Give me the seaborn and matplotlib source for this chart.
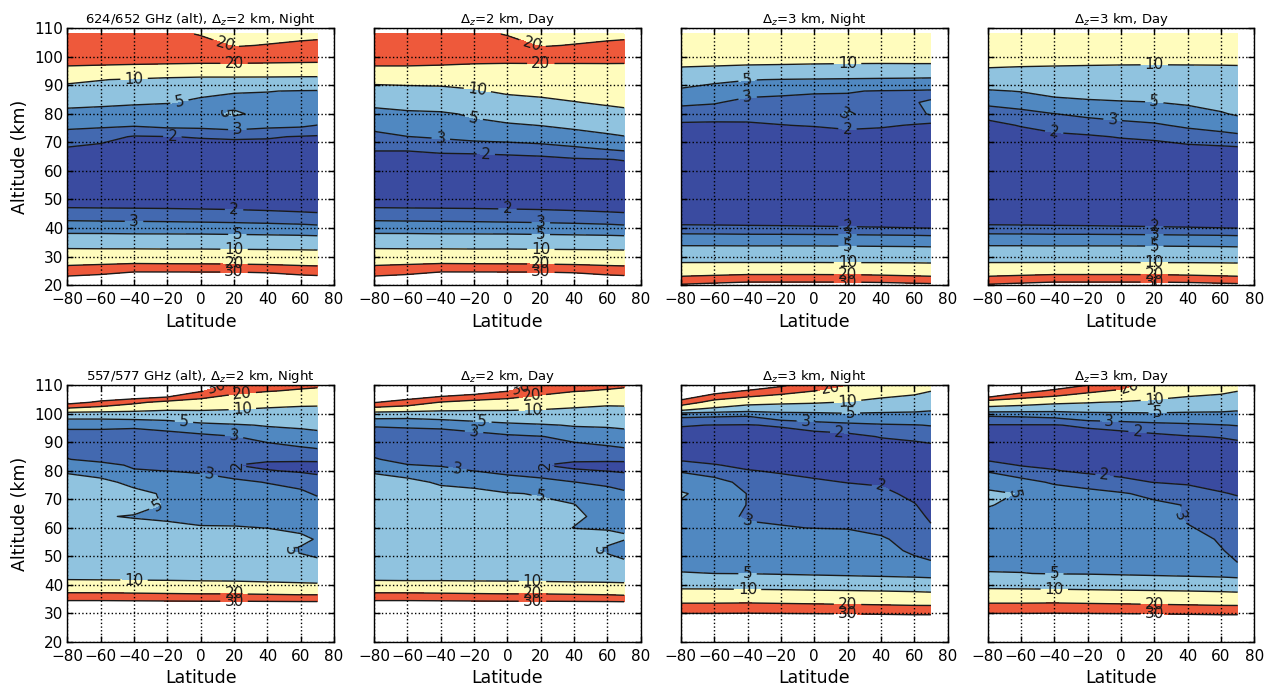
import numpy as np
import matplotlib
matplotlib.use("Agg")
import matplotlib.pyplot as plt
import seaborn as sns

# grille : latitudes (deg) et altitudes (km) des valeurs
lat = [-80, -60, -40, -20, 0, 20, 40, 60, 70]
alt_hi = list(range(20, 109, 4))
alt_lo = list(range(20, 81, 4)) + [82] + list(range(84, 113, 4))

# 624/652 GHz, dz=2 km, nuit
z_hi_2km_night = [
    [40, 42, 45, 45, 45, 45, 44, 42, 42],
    [27.3, 29, 32, 32, 32, 32, 31, 28.5, 27.6],
    [17.1, 17.8, 18.5, 18.2, 18, 17.7, 17.2, 16.6, 16.3],
    [10.9, 10.8, 10.8, 10.7, 10.7, 10.6, 10.5, 10.4, 10.3],
    [6.3, 6.3, 6.2, 6.2, 6.2, 6.1, 6.0, 5.9, 5.8],
    [3.82, 3.78, 3.74, 3.7, 3.64, 3.58, 3.5, 3.4, 3.3],
    [2.54, 2.5, 2.47, 2.44, 2.4, 2.35, 2.28, 2.2, 2.16],
    [1.85, 1.84, 1.83, 1.82, 1.8, 1.78, 1.75, 1.72, 1.7],
    [1.6, 1.6, 1.6, 1.6, 1.6, 1.6, 1.6, 1.6, 1.6],
    [1.5, 1.5, 1.5, 1.5, 1.5, 1.5, 1.5, 1.5, 1.5],
    [1.5, 1.5, 1.5, 1.5, 1.5, 1.5, 1.5, 1.5, 1.5],
    [1.6, 1.6, 1.55, 1.55, 1.55, 1.55, 1.55, 1.55, 1.55],
    [1.95, 1.8, 1.7, 1.7, 1.7, 1.7, 1.7, 1.7, 1.7],
    [2.53, 2.3, 1.93, 1.98, 2.05, 2.1, 2.07, 1.95, 1.9],
    [3.27, 3.2, 3.1, 3.3, 3.35, 3.6, 3.3, 3.2, 2.98],
    [4.29, 4.15, 4.04, 4.0, 4.3, 5.3, 4.4, 3.9, 3.8],
    [5.72, 5.5, 5.26, 5.1, 4.7, 4.4, 4.5, 4.4, 4.3],
    [7.87, 7.6, 7.3, 7.0, 5.4, 5.15, 5.05, 4.9, 4.85],
    [11.25, 10.2, 9.4, 8.5, 8.0, 8.0, 7.9, 7.8, 7.8],
    [19, 18.5, 18, 17.5, 17, 17, 17, 16.5, 16.3],
    [24, 24, 24, 24, 24, 24, 23.5, 23.5, 23.5],
    [25, 25, 25, 24.5, 23, 19.5, 20.3, 21.3, 21.5],
    [24, 24, 24, 22, 19.5, 17, 17.5, 18, 18.5],
]

# 624/652 GHz, dz=2 km, jour
z_hi_2km_day = [
    [40, 42, 45, 45, 45, 45, 44, 42, 42],
    [27.3, 29, 32, 32, 32, 32, 31, 28.5, 27.6],
    [17.1, 17.8, 18.5, 18.2, 18, 17.7, 17.2, 16.6, 16.3],
    [10.9, 10.8, 10.8, 10.7, 10.7, 10.6, 10.5, 10.4, 10.3],
    [6.3, 6.3, 6.2, 6.2, 6.2, 6.1, 6.0, 5.9, 5.8],
    [3.82, 3.78, 3.74, 3.7, 3.64, 3.58, 3.5, 3.4, 3.3],
    [2.54, 2.5, 2.47, 2.44, 2.4, 2.35, 2.28, 2.2, 2.16],
    [1.85, 1.84, 1.83, 1.82, 1.8, 1.78, 1.75, 1.72, 1.7],
    [1.6, 1.6, 1.6, 1.6, 1.6, 1.6, 1.6, 1.6, 1.6],
    [1.5, 1.5, 1.5, 1.5, 1.5, 1.5, 1.5, 1.5, 1.5],
    [1.5, 1.5, 1.5, 1.5, 1.5, 1.5, 1.5, 1.6, 1.6],
    [1.7, 1.7, 1.7, 1.65, 1.7, 1.75, 1.9, 1.97, 2.05],
    [2.1, 2.1, 2.25, 2.35, 2.45, 2.6, 2.85, 3.15, 3.3],
    [2.65, 2.98, 3.15, 3.4, 3.5, 3.65, 3.95, 4.6, 4.9],
    [3.4, 3.75, 3.8, 4.5, 4.7, 5.05, 5.6, 6.1, 6.5],
    [4.3, 4.6, 4.7, 5.3, 6.2, 6.6, 7.3, 8.2, 8.6],
    [5.6, 6.0, 6.3, 7.0, 8.2, 8.8, 9.8, 10.7, 11.2],
    [8.0, 8.3, 8.5, 9.5, 10.8, 11.4, 12.0, 12.7, 13],
    [11.5, 11.8, 12, 12.5, 13.5, 13.8, 14.2, 14.6, 14.8],
    [19, 19, 18.5, 17.5, 17, 17.2, 17.5, 17.6, 17.5],
    [24, 24, 24, 24, 24, 24, 23.5, 23.5, 23.5],
    [25, 25, 25, 24.5, 23, 19.5, 20.3, 21.3, 21.5],
    [24, 24, 24, 22, 19.5, 17, 17.5, 18, 18.5],
]

# 624/652 GHz, dz=3 km, nuit
z_hi_3km_night = [
    [31, 32.5, 34, 34, 34, 34, 33.5, 32.5, 32],
    [16.7, 17.8, 18.8, 18.8, 18.8, 18.6, 18, 17, 16.5],
    [9.8, 9.8, 9.8, 9.8, 9.8, 9.7, 9.7, 9.6, 9.5],
    [6.0, 6.0, 6.0, 6.0, 6.0, 5.95, 5.9, 5.85, 5.8],
    [3.77, 3.75, 3.7, 3.7, 3.68, 3.65, 3.6, 3.55, 3.5],
    [2.2, 2.18, 2.15, 2.13, 2.1, 2.07, 2.04, 2.01, 1.98],
    [1.5, 1.5, 1.5, 1.5, 1.5, 1.5, 1.5, 1.5, 1.5],
    [1.45, 1.45, 1.45, 1.45, 1.45, 1.45, 1.45, 1.45, 1.45],
    [1.4, 1.4, 1.4, 1.4, 1.4, 1.4, 1.4, 1.4, 1.4],
    [1.4, 1.4, 1.4, 1.4, 1.4, 1.4, 1.4, 1.4, 1.4],
    [1.4, 1.4, 1.4, 1.4, 1.4, 1.4, 1.4, 1.4, 1.4],
    [1.45, 1.45, 1.45, 1.45, 1.45, 1.45, 1.45, 1.45, 1.45],
    [1.5, 1.5, 1.5, 1.5, 1.5, 1.5, 1.5, 1.5, 1.5],
    [1.6, 1.6, 1.6, 1.6, 1.6, 1.65, 1.65, 1.65, 1.65],
    [1.85, 1.85, 1.9, 1.98, 2.05, 2.2, 2.1, 1.95, 1.75],
    [2.45, 2.35, 2.25, 2.3, 2.5, 3.1, 2.65, 2.6, 3.15],
    [3.25, 3.1, 2.65, 2.6, 2.7, 2.8, 2.8, 2.98, 3.05],
    [4.5, 4.1, 3.45, 3.3, 3.1, 3.05, 2.95, 2.9, 2.85],
    [6.5, 5.5, 5.1, 4.9, 4.8, 4.7, 4.6, 4.5, 4.4],
    [9.7, 9.4, 9.0, 8.8, 8.5, 8.3, 8.2, 8.3, 8.3],
    [12.5, 12.5, 12.5, 12.5, 12.5, 12.5, 12.5, 12.5, 12.5],
    [14, 14, 14, 14, 14, 14, 14, 14, 14],
    [14, 14, 14, 14, 14, 14, 14, 14, 14],
]

# 624/652 GHz, dz=3 km, jour
z_hi_3km_day = [
    [31, 32.5, 34, 34, 34, 34, 33.5, 32.5, 32],
    [16.7, 17.8, 18.8, 18.8, 18.8, 18.6, 18, 17, 16.5],
    [9.8, 9.8, 9.8, 9.8, 9.8, 9.7, 9.7, 9.6, 9.5],
    [6.0, 6.0, 6.0, 6.0, 6.0, 5.95, 5.9, 5.85, 5.8],
    [3.77, 3.75, 3.7, 3.7, 3.68, 3.65, 3.6, 3.55, 3.5],
    [2.2, 2.18, 2.15, 2.13, 2.1, 2.07, 2.04, 2.01, 1.98],
    [1.5, 1.5, 1.5, 1.5, 1.5, 1.5, 1.5, 1.5, 1.5],
    [1.45, 1.45, 1.45, 1.45, 1.45, 1.45, 1.45, 1.45, 1.45],
    [1.4, 1.4, 1.4, 1.4, 1.4, 1.4, 1.4, 1.4, 1.4],
    [1.4, 1.4, 1.4, 1.4, 1.4, 1.4, 1.4, 1.4, 1.4],
    [1.4, 1.4, 1.4, 1.4, 1.4, 1.4, 1.4, 1.4, 1.4],
    [1.45, 1.45, 1.5, 1.5, 1.5, 1.55, 1.6, 1.6, 1.6],
    [1.5, 1.55, 1.65, 1.6, 1.65, 1.7, 1.8, 1.85, 1.9],
    [1.6, 1.65, 1.8, 1.9, 2.05, 2.15, 2.4, 2.6, 2.7],
    [1.75, 2.05, 2.35, 2.5, 2.65, 2.85, 3.2, 3.5, 3.8],
    [2.3, 2.6, 2.98, 3.25, 3.5, 3.6, 4.1, 4.8, 5.25],
    [3.3, 3.6, 4.2, 4.6, 4.8, 4.95, 5.3, 5.8, 6.2],
    [4.75, 5.1, 5.9, 6.1, 6.3, 6.4, 6.6, 6.9, 7.2],
    [7.0, 7.2, 7.5, 7.6, 7.6, 7.7, 7.8, 8.0, 8.2],
    [9.9, 9.6, 9.4, 9.2, 9.0, 8.9, 9.0, 9.1, 9.2],
    [12.5, 12.5, 12.5, 12.5, 12.5, 12.5, 12.5, 12.5, 12.5],
    [14, 14, 14, 14, 14, 14, 14, 14, 14],
    [14, 14, 14, 14, 14, 14, 14, 14, 14],
]

# 557/577 GHz, dz=2 km, nuit
z_lo_2km_night = [
    [60, 60, 60, 60, 60, 60, 60, 60, 60],
    [55, 55, 55, 55, 55, 55, 55, 55, 55],
    [50, 50, 50, 50, 50, 50, 50, 50, 50],
    [40, 40, 40, 40, 40, 40, 40, 40, 40],
    [24, 24, 23.5, 23, 22.5, 22.5, 22, 21.5, 21.5],
    [11.3, 11.2, 11.1, 11.0, 10.9, 10.8, 10.6, 10.4, 10.3],
    [8.5, 8.5, 8.5, 8.5, 8.4, 8.4, 8.3, 8.3, 8.3],
    [7.5, 7.4, 7.3, 7.2, 7.1, 7.1, 7.0, 5.6, 5.3],
    [7.0, 6.9, 6.7, 6.6, 6.5, 6.4, 5.4, 4.8, 4.5],
    [6.7, 6.5, 6.2, 6.0, 6.0, 6.0, 5.7, 5.3, 4.9],
    [6.5, 6.0, 5.5, 5.4, 5.1, 5.1, 4.98, 4.7, 4.5],
    [6.3, 5.1, 4.9, 4.7, 4.6, 4.5, 4.4, 4.2, 4.0],
    [6.1, 5.8, 5.6, 4.85, 4.3, 4.1, 3.9, 3.7, 3.5],
    [5.9, 5.7, 5.4, 4.8, 3.9, 3.7, 3.5, 3.25, 2.85],
    [5.6, 5.4, 4.6, 4.2, 3.5, 3.25, 2.95, 2.6, 2.3],
    [4.8, 4.3, 3.1, 2.98, 2.85, 2.4, 2.05, 1.9, 1.85],
    [3.9, 3.45, 2.8, 2.7, 2.6, 2.02, 1.8, 1.75, 1.7],
    [3.05, 2.6, 2.5, 2.45, 2.4, 2.15, 2.15, 2.15, 2.2],
    [2.5, 2.4, 2.35, 2.3, 2.3, 2.2, 2.55, 2.9, 3.05],
    [2.5, 2.5, 2.4, 2.45, 2.6, 2.95, 3.5, 3.9, 4.2],
    [3.3, 3.3, 3.25, 3.6, 4.3, 4.7, 5.2, 5.5, 5.7],
    [6.5, 6.5, 6.8, 7.0, 8.0, 8.3, 8.4, 8.2, 8.0],
    [34, 28, 22, 17, 15, 13, 11.5, 11.0, 11.0],
    [50, 45, 48, 45, 31, 23, 20.5, 19, 18.5],
    [60, 60, 60, 60, 42, 31, 27, 25, 24],
]

# 557/577 GHz, dz=2 km, jour
z_lo_2km_day = [
    [60, 60, 60, 60, 60, 60, 60, 60, 60],
    [55, 55, 55, 55, 55, 55, 55, 55, 55],
    [50, 50, 50, 50, 50, 50, 50, 50, 50],
    [40, 40, 40, 40, 40, 40, 40, 40, 40],
    [24, 24, 23.5, 23, 22.5, 22.5, 22, 21.5, 21],
    [11, 10.9, 10.9, 10.8, 10.8, 10.7, 10.6, 10.5, 10.4],
    [8.5, 8.5, 8.5, 8.5, 8.4, 8.4, 8.3, 8.3, 8.3],
    [7.5, 7.4, 7.3, 7.2, 7.1, 7.1, 7.0, 5.8, 5.2],
    [7.0, 6.9, 6.8, 6.7, 6.6, 6.6, 5.8, 4.7, 4.4],
    [6.7, 6.5, 6.3, 6.1, 5.9, 6.2, 6.0, 5.4, 5.05],
    [6.5, 6.0, 5.9, 5.8, 5.7, 5.8, 4.95, 4.9, 4.95],
    [6.3, 5.9, 5.8, 5.7, 5.5, 5.5, 5.3, 4.5, 4.3],
    [6.1, 5.8, 5.7, 5.6, 5.3, 5.25, 5.05, 4.0, 3.7],
    [5.9, 5.7, 5.5, 5.35, 5.1, 4.9, 4.5, 3.5, 3.2],
    [5.6, 5.4, 4.8, 4.6, 3.7, 3.3, 3.02, 2.7, 2.5],
    [4.8, 4.3, 3.35, 2.98, 2.6, 2.5, 2.1, 1.98, 1.9],
    [3.9, 3.05, 2.9, 2.7, 2.45, 2.03, 1.8, 1.75, 1.7],
    [3.1, 2.6, 2.6, 2.5, 2.35, 2.15, 2.15, 2.15, 2.2],
    [2.5, 2.4, 2.35, 2.3, 2.3, 2.2, 2.6, 2.8, 2.98],
    [2.45, 2.4, 2.4, 2.5, 2.75, 2.95, 3.4, 3.8, 4.0],
    [3.1, 3.2, 3.3, 3.7, 4.3, 4.7, 5.2, 5.3, 5.5],
    [6.5, 6.3, 6.8, 7.5, 8.0, 8.3, 8.4, 8.2, 8.0],
    [30.5, 26, 19.5, 16.5, 15, 13, 11.5, 10.8, 11.0],
    [50, 42, 40, 36, 30.5, 24, 20.5, 19.2, 18.5],
    [60, 60, 60, 60, 42, 31, 27, 25, 24],
]

# 557/577 GHz, dz=3 km, nuit
z_lo_3km_night = [
    [60, 60, 60, 60, 60, 60, 60, 60, 60],
    [50, 50, 50, 50, 50, 50, 50, 50, 50],
    [36, 36, 36, 36, 36, 36, 35.5, 35, 35],
    [24, 24, 24.5, 24, 23.5, 23, 22.5, 22, 22],
    [14, 14, 13.8, 13.5, 13.2, 13, 12.7, 12.3, 12],
    [7.9, 7.8, 7.6, 7.5, 7.3, 7.1, 6.9, 6.7, 6.5],
    [5.1, 5.0, 4.95, 4.8, 4.65, 4.5, 4.35, 4.2, 4.1],
    [4.4, 4.4, 4.3, 4.2, 4.1, 4.0, 3.9, 3.2, 3.05],
    [4.2, 4.2, 4.0, 4.0, 3.9, 3.8, 3.3, 2.85, 2.7],
    [4.1, 4.0, 3.6, 3.6, 3.5, 3.4, 3.1, 2.7, 2.4],
    [4.1, 3.5, 3.15, 3.05, 2.98, 2.95, 2.8, 2.5, 2.1],
    [4.3, 3.3, 2.9, 2.85, 2.8, 2.7, 2.6, 2.3, 1.85],
    [4.8, 4.0, 2.95, 2.7, 2.6, 2.5, 2.4, 2.05, 1.7],
    [5.2, 4.3, 2.95, 2.5, 2.4, 2.3, 2.2, 1.8, 1.6],
    [4.0, 3.3, 2.75, 2.3, 2.1, 1.98, 1.9, 1.6, 1.5],
    [2.85, 2.6, 2.05, 1.9, 1.8, 1.7, 1.6, 1.5, 1.45],
    [2.3, 2.05, 1.8, 1.75, 1.7, 1.6, 1.55, 1.5, 1.45],
    [1.9, 1.75, 1.65, 1.6, 1.55, 1.5, 1.5, 1.5, 1.5],
    [1.6, 1.55, 1.5, 1.45, 1.45, 1.5, 1.6, 1.7, 1.8],
    [1.7, 1.65, 1.6, 1.55, 1.65, 1.75, 2.05, 2.2, 2.3],
    [2.05, 1.98, 1.95, 2.1, 2.4, 2.6, 2.85, 2.95, 3.05],
    [3.5, 3.4, 3.3, 4.2, 4.4, 4.8, 4.6, 4.5, 4.4],
    [26, 16, 12, 11, 10.5, 9.7, 8.5, 7.8, 6.8],
    [45, 35, 29, 24, 20.1, 16, 12.5, 11.2, 10.1],
    [60, 60, 50, 40, 31, 24, 18, 16, 14],
]

# 557/577 GHz, dz=3 km, jour
z_lo_3km_day = [
    [60, 60, 60, 60, 60, 60, 60, 60, 60],
    [50, 50, 50, 50, 50, 50, 50, 50, 50],
    [36, 36, 36, 36, 36, 36, 35.5, 35, 35],
    [24, 24, 24.5, 24, 23.5, 23, 22.5, 22, 22],
    [14, 14, 13.8, 13.5, 13.2, 13, 12.7, 12.3, 12],
    [8.1, 7.9, 7.7, 7.5, 7.3, 7.1, 6.9, 6.7, 6.5],
    [5.1, 5.05, 4.9, 4.85, 4.7, 4.55, 4.4, 4.25, 4.1],
    [4.5, 4.5, 4.4, 4.3, 4.2, 4.1, 4.0, 3.6, 2.98],
    [4.3, 4.3, 4.2, 4.1, 4.0, 3.9, 3.7, 3.05, 2.8],
    [4.3, 4.2, 4.1, 4.0, 3.9, 3.7, 3.4, 2.9, 2.7],
    [4.4, 4.2, 4.0, 3.9, 3.8, 3.5, 3.05, 2.8, 2.55],
    [4.6, 4.3, 4.0, 3.8, 3.6, 3.3, 2.9, 2.6, 2.4],
    [5.1, 4.6, 3.9, 3.6, 3.4, 3.2, 2.95, 2.4, 2.2],
    [5.4, 4.9, 3.6, 3.3, 3.1, 2.75, 2.5, 2.05, 1.95],
    [4.2, 3.4, 2.85, 2.6, 2.2, 1.98, 1.85, 1.75, 1.7],
    [2.85, 2.3, 2.05, 1.8, 1.75, 1.65, 1.6, 1.55, 1.5],
    [2.3, 1.95, 1.85, 1.7, 1.65, 1.6, 1.55, 1.5, 1.5],
    [1.9, 1.7, 1.65, 1.6, 1.55, 1.5, 1.5, 1.5, 1.5],
    [1.6, 1.55, 1.5, 1.45, 1.45, 1.45, 1.55, 1.6, 1.7],
    [1.7, 1.65, 1.6, 1.6, 1.7, 1.8, 1.95, 2.05, 2.15],
    [1.95, 1.95, 1.95, 2.15, 2.3, 2.55, 2.75, 2.95, 3.05],
    [3.3, 3.4, 3.6, 4.3, 4.5, 4.7, 4.55, 4.5, 4.4],
    [14, 12.5, 11, 10.3, 9.5, 8.9, 8.0, 7.6, 6.8],
    [50, 34, 28, 22, 18.5, 13.5, 12, 11.0, 10.1],
    [60, 60, 45, 38, 31, 19, 17, 15, 14],
]

titles = [
    r"624/652 GHz (alt), $\Delta_z$=2 km, Night",
    r"$\Delta_z$=2 km, Day",
    r"$\Delta_z$=3 km, Night",
    r"$\Delta_z$=3 km, Day",
    r"557/577 GHz (alt), $\Delta_z$=2 km, Night",
    r"$\Delta_z$=2 km, Day",
    r"$\Delta_z$=3 km, Night",
    r"$\Delta_z$=3 km, Day",
]

levels = [0, 2, 3, 5, 10, 20, 30]
line_levels = [2, 3, 5, 10, 20, 30]
couleurs = ["#3a4ba0", "#4369b0", "#5088c1", "#90c3df", "#fffcbd", "#ee593b"]

# positions approximatives des etiquettes des isolignes
label_pos = [
    [(15, 104.5), (20, 98.5), (-40, 93), (-13, 85), (8, 79.5), (22, 74.5), (-17, 72),
     (20, 46), (-40, 41.5), (22, 37.5), (20, 32.5), (20, 27), (20, 24.5)],
    [(15, 104.5), (20, 98.5), (-18, 88.5), (-20, 79), (-40, 71), (-13, 66),
     (0, 46), (20, 41), (20, 37.5), (20, 32.5), (20, 27), (20, 24.5)],
    [(20, 97.5), (-40, 92), (-40, 86), (18, 80), (20, 75),
     (20, 40.5), (20, 38), (20, 33.5), (20, 27.5), (20, 23.5), (20, 21)],
    [(20, 97.5), (20, 84.3), (-5, 78), (-40, 73.8),
     (20, 40.5), (20, 38), (20, 33.5), (20, 27.5), (20, 23.5), (20, 21)],
    [(10, 108.5), (25, 106.8), (25, 101.5), (-10, 97.8), (20, 92), (20, 81.8), (5, 79),
     (-25, 66.5), (48, 52.5), (-40, 41.5), (20, 37), (20, 34.5)],
    [(8, 109), (15, 106.3), (15, 101.3), (-15, 97.8), (-20, 94), (20, 81.8), (-30, 80.5),
     (20, 71), (48, 52.5), (15, 40.8), (15, 37), (15, 34.5)],
    [(10, 109.5), (20, 104.5), (22, 100.4), (-5, 97.8), (15, 93.4), (40, 74.6),
     (-40, 61.5), (-40, 43.5), (-40, 37.8), (20, 33.2), (20, 29.8)],
    [(5, 109.5), (20, 105.3), (22, 100.4), (-7, 97.5), (10, 94), (-10, 77.5),
     (25, 61.5), (-62, 70.5), (-40, 43), (-40, 37.7), (20, 33.2), (20, 29.8)],
]

sns.set_theme(style="ticks", rc={
    "axes.edgecolor": "black", "axes.linewidth": 1.0,
    "axes.labelcolor": "black", "text.color": "black",
    "xtick.color": "black", "ytick.color": "black",
    "xtick.direction": "in", "ytick.direction": "in",
    "xtick.top": True, "ytick.right": True,
    "xtick.major.size": 4, "ytick.major.size": 4,
    "xtick.major.width": 1, "ytick.major.width": 1,
    "axes.axisbelow": False,
})
plt.rcParams["font.family"] = ["DejaVu Sans"]

fig, axes = plt.subplots(2, 4, figsize=(12.75, 6.88), dpi=100)
fig.subplots_adjust(left=0.0528, right=0.9838, top=0.9589, bottom=0.0669,
                    wspace=0.15, hspace=0.39)

champs = [z_hi_2km_night, z_hi_2km_day, z_hi_3km_night, z_hi_3km_day,
          z_lo_2km_night, z_lo_2km_day, z_lo_3km_night, z_lo_3km_day]

for i, ax in enumerate(axes.flat):
    alt = alt_hi if i < 4 else alt_lo
    Z = np.array(champs[i], dtype=float)
    ax.contourf(lat, alt, Z, levels=levels, colors=couleurs)
    cs = ax.contour(lat, alt, Z, levels=line_levels, colors="k", linewidths=1.0)
    ax.clabel(cs, fmt="%d", fontsize=11, inline=True, manual=label_pos[i])

    ax.set_xlim(-80, 80)
    ax.set_ylim(20, 110)
    ax.set_xticks(range(-80, 81, 20))
    ax.set_yticks(range(20, 111, 10))
    ax.grid(True, color="black", linestyle=":", linewidth=1.0)
    ax.tick_params(labelsize=11)
    ax.tick_params(axis="x", pad=5)
    ax.tick_params(axis="y", pad=3)
    ax.set_xlabel("Latitude", fontsize=12.5)
    ax.set_title(titles[i], fontsize=9.5, pad=3.5)
    if i % 4 == 0:
        ax.set_ylabel("Altitude (km)", fontsize=12.5)
    else:
        ax.tick_params(labelleft=False)

fig.savefig("out.png", dpi=100)
